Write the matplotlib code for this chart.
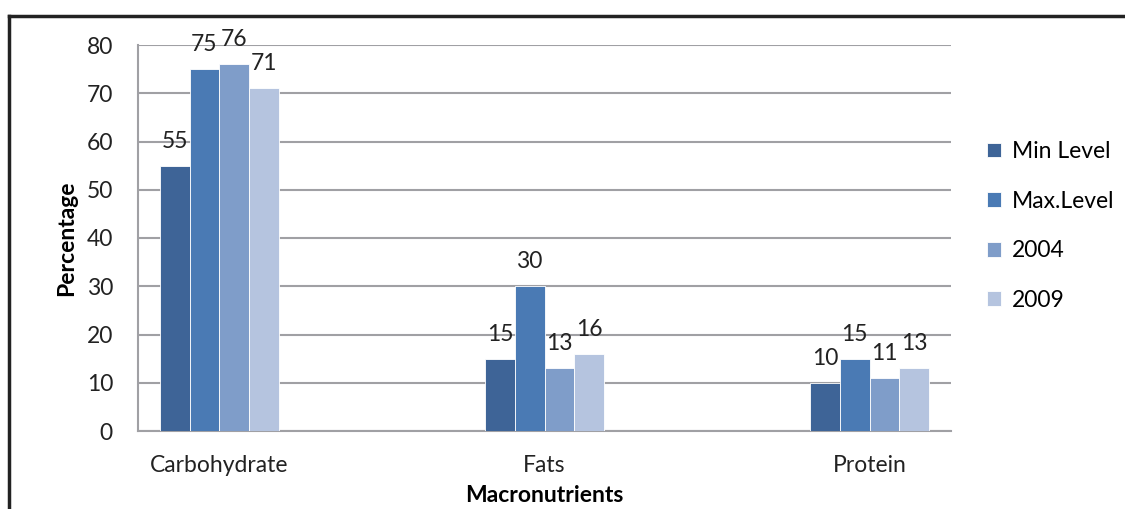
import matplotlib
matplotlib.use("Agg")
import matplotlib.pyplot as plt
from matplotlib.lines import Line2D
import numpy as np

categories = ["Carbohydrate", "Fats", "Protein"]
series_names = ["Min Level", "Max.Level", "2004", "2009"]
min_level = [55, 15, 10]
max_level = [75, 30, 15]
y2004 = [76, 13, 11]
y2009 = [71, 16, 13]
yticks = [0, 10, 20, 30, 40, 50, 60, 70, 80]

colors = ["#3E6497", "#4A7AB4", "#7F9DC9", "#B5C4DF"]
series = [min_level, max_level, y2004, y2009]

plt.rcParams['font.family'] = ['Lato', 'DejaVu Sans']
FS = 16.5

fig = plt.figure(figsize=(11.25, 5.09), dpi=100)
ax = fig.add_axes([138/1125, 1-431/509, (951-138)/1125, (431-45)/509])

x = np.arange(len(categories))
w = 0.0915
for i, (vals, c, name) in enumerate(zip(series, colors, series_names)):
    pos = x + (i - 1.5) * w
    ax.bar(pos, vals, width=w, color=c, edgecolor="white", linewidth=0.6, label=name, zorder=3)
    for p, v in zip(pos, vals):
        ax.text(p, v + 2.9, str(v), ha="center", va="bottom", fontsize=FS, color="#222222")

ax.set_xlim(-0.25, 2.25)
ax.set_ylim(0, 80)
ax.set_yticks(yticks)
ax.set_xticks(x)
ax.set_xticklabels(categories)
ax.tick_params(axis="y", length=0, labelsize=FS, colors="#222222", pad=18)
ax.tick_params(axis="x", length=0, labelsize=FS, colors="#222222", pad=17)
ax.grid(axis="y", color="#A0A0A4", linewidth=1.5, zorder=0)
for s in ["top", "right"]:
    ax.spines[s].set_visible(False)
for s in ["left", "bottom"]:
    ax.spines[s].set_color("#A0A0A4")
    ax.spines[s].set_linewidth(1.5)

ax.set_ylabel("Percentage", fontsize=FS, fontweight="bold", labelpad=7)
ax.set_xlabel("Macronutrients", fontsize=FS, fontweight="bold", labelpad=7)

leg = ax.legend(loc="upper left", bbox_to_anchor=(1.033, 0.775), frameon=False,
                fontsize=FS, handlelength=0.62, handleheight=0.62, handletextpad=0.45,
                labelspacing=1.25, borderaxespad=0)

# figure border (top and left)
fig.add_artist(Line2D([9/1125, 1], [1-16/509, 1-16/509], color="#222222", linewidth=2.5, transform=fig.transFigure))
fig.add_artist(Line2D([9/1125, 9/1125], [0, 1-16/509], color="#222222", linewidth=2.5, transform=fig.transFigure))

fig.savefig("out.png", dpi=100)
